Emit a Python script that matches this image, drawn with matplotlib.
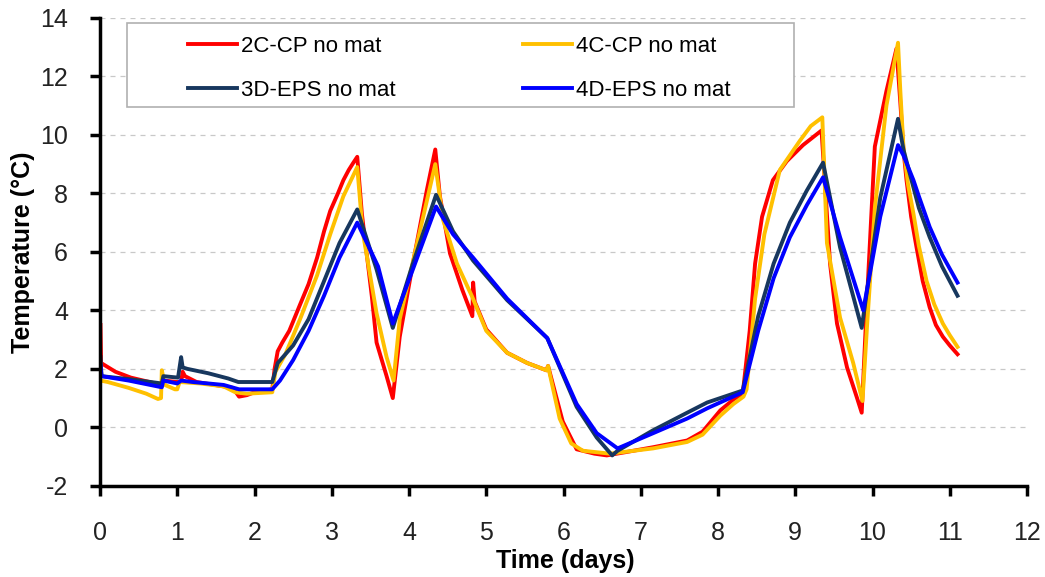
import matplotlib
matplotlib.use("Agg")
import matplotlib.pyplot as plt
from matplotlib.patches import Rectangle

# series (time in days, temperature in degC)
t_2c = [0.006, 0.014, 0.2, 0.4, 0.8, 0.82, 1.0, 1.05, 1.07, 1.1, 1.25, 1.6, 1.72, 1.8, 1.9, 2.0, 2.23,
        2.26, 2.3, 2.36, 2.45, 2.59, 2.7, 2.81, 2.9, 2.98, 3.08, 3.15, 3.22, 3.28, 3.33, 3.39, 3.52,
        3.58, 3.71, 3.79, 3.88, 4.05, 4.23, 4.34, 4.4, 4.53, 4.69, 4.82, 4.83, 4.85, 5.0, 5.27, 5.53,
        5.78, 5.8, 5.82, 5.99, 6.17, 6.4, 6.56, 6.8, 7.16, 7.6, 7.8, 8.03, 8.2, 8.32, 8.41, 8.48,
        8.57, 8.71, 8.89, 9.1, 9.34, 9.39, 9.45, 9.54, 9.67, 9.8, 9.86, 9.93, 10.03, 10.18, 10.31,
        10.36, 10.4, 10.44, 10.5, 10.57, 10.65, 10.74, 10.82, 10.91, 11.0, 11.1]
T_2c = [3.5, 2.2, 1.9, 1.7, 1.45, 1.6, 1.55, 1.55, 1.9, 1.75, 1.55, 1.4, 1.35, 1.05, 1.1, 1.2, 1.3,
        2.0, 2.6, 2.9, 3.3, 4.2, 4.9, 5.8, 6.7, 7.4, 8.0, 8.45, 8.8, 9.05, 9.25, 7.3, 4.45,
        2.9, 1.75, 1.0, 3.1, 5.6, 8.1, 9.5, 7.9, 5.95, 4.7, 3.8, 4.95, 4.3, 3.35, 2.55, 2.2,
        1.95, 2.1, 1.9, 0.2, -0.75, -0.9, -0.96, -0.85, -0.68, -0.45, -0.15, 0.58, 0.95, 1.15, 3.3, 5.6,
        7.2, 8.45, 9.1, 9.65, 10.15, 8.1, 5.6, 3.55, 2.05, 1.0, 0.5, 4.45, 9.6, 11.5, 12.95,
        11.1, 9.5, 8.45, 7.2, 6.15, 5.0, 4.1, 3.5, 3.1, 2.8, 2.5]

t_4c = [0.006, 0.1, 0.37, 0.6, 0.75, 0.79, 0.8, 0.82, 0.84, 0.97, 1.0, 1.03, 1.3, 1.6, 1.75, 1.9,
        2.23, 2.27, 2.4, 2.59, 2.81, 2.98, 3.15, 3.33, 3.4, 3.58, 3.71, 3.8, 3.88, 4.14, 4.34, 4.44,
        4.62, 4.82, 5.0, 5.27, 5.53, 5.78, 5.8, 5.82, 5.95, 6.1, 6.25, 6.6, 7.16, 7.6, 7.8, 8.03, 8.2,
        8.33, 8.37, 8.48, 8.6, 8.8, 9.06, 9.2, 9.35, 9.41, 9.58, 9.75, 9.87, 9.93, 10.03, 10.18,
        10.33, 10.36, 10.4, 10.46, 10.53, 10.6, 10.7, 10.8, 10.91, 11.0, 11.1]
T_4c = [1.6, 1.55, 1.35, 1.15, 0.97, 1.0, 1.95, 1.7, 1.45, 1.3, 1.3, 1.55, 1.5, 1.4, 1.2, 1.15,
        1.2, 1.9, 2.5, 3.7, 5.2, 6.6, 7.9, 8.9, 6.7, 3.9, 2.4, 1.6, 3.7, 6.7, 9.0, 7.1,
        5.6, 4.45, 3.3, 2.55, 2.2, 1.95, 2.1, 1.85, 0.3, -0.55, -0.8, -0.9, -0.72, -0.5, -0.25, 0.4, 0.8,
        1.05, 1.3, 4.4, 6.6, 8.8, 9.8, 10.3, 10.6, 6.3, 3.75, 2.2, 0.9, 3.5, 7.5, 11.0,
        13.15, 11.5, 9.6, 8.3, 7.3, 6.2, 5.0, 4.2, 3.55, 3.15, 2.75]

t_3d = [0.006, 0.02, 0.37, 0.8, 0.82, 1.01, 1.05, 1.07, 1.13, 1.4, 1.66, 1.79, 2.23, 2.3, 2.5,
        2.7, 2.9, 3.1, 3.33, 3.58, 3.79, 4.05, 4.35, 4.57, 4.83, 5.27, 5.79, 6.17, 6.43, 6.63, 6.7,
        7.16, 7.6, 7.86, 8.32, 8.52, 8.72, 8.93, 9.15, 9.36, 9.58, 9.86, 10.1, 10.33, 10.4, 10.53,
        10.6, 10.74, 10.9, 11.1]
T_3d = [2.4, 1.75, 1.65, 1.5, 1.75, 1.7, 2.4, 2.05, 2.0, 1.85, 1.67, 1.55, 1.55, 2.2, 2.8,
        3.7, 5.0, 6.3, 7.45, 5.4, 3.4, 5.6, 7.95, 6.7, 5.7, 4.35, 3.05, 0.7, -0.35, -0.96, -0.8,
        -0.1, 0.5, 0.85, 1.26, 3.8, 5.6, 7.0, 8.1, 9.05, 6.15, 3.4, 7.85, 10.55, 9.5, 8.2,
        7.5, 6.5, 5.5, 4.5]

t_4d = [0.006, 0.02, 0.37, 0.8, 0.82, 1.0, 1.05, 1.2, 1.6, 1.8, 2.23, 2.33, 2.5, 2.7, 2.9, 3.1,
        3.33, 3.6, 3.79, 4.05, 4.35, 4.57, 4.83, 5.27, 5.79, 6.17, 6.43, 6.7, 7.16, 7.6, 7.86, 8.32,
        8.52, 8.72, 8.93, 9.15, 9.36, 9.58, 9.88, 10.1, 10.33, 10.4, 10.53, 10.6, 10.74, 10.9, 11.1]
T_4d = [2.1, 1.75, 1.6, 1.37, 1.6, 1.5, 1.6, 1.55, 1.45, 1.3, 1.3, 1.6, 2.3, 3.3, 4.5, 5.8,
        7.0, 5.5, 3.55, 5.4, 7.55, 6.6, 5.8, 4.4, 3.05, 0.8, -0.2, -0.72, -0.2, 0.3, 0.65, 1.2,
        3.3, 5.1, 6.5, 7.6, 8.55, 6.5, 4.0, 7.2, 9.65, 9.3, 8.45, 7.9, 6.85, 5.9, 4.95]

labels = ["2C-CP no mat", "4C-CP no mat", "3D-EPS no mat", "4D-EPS no mat"]
colors = ["#FF0000", "#FFC000", "#17375E", "#0000FF"]
x_ticks = list(range(0, 13))
y_ticks = list(range(-2, 15, 2))

narrow = ["Liberation Sans Narrow", "Liberation Sans", "DejaVu Sans"]
plt.rcParams["font.family"] = ["Liberation Sans", "DejaVu Sans"]
plt.rcParams["axes.unicode_minus"] = False

fig = plt.figure(figsize=(10.45, 5.77), dpi=100)
ax = fig.add_axes([0.0957, 0.158, 0.8871, 0.811])

series = [(t_2c, T_2c), (t_4c, T_4c), (t_3d, T_3d), (t_4d, T_4d)]
lines = []
for (t, T), lab, c in zip(series, labels, colors):
    ln, = ax.plot(t, T, color=c, lw=2.8, label=lab, solid_joinstyle="round")
    lines.append(ln)

ax.set_xlim(0, 12)
ax.set_ylim(-2, 14)
ax.set_xticks(x_ticks)
ax.set_yticks(y_ticks)
ax.grid(axis="y", linestyle=(0, (4, 4)), color="#c8c8c8", lw=0.9)
ax.set_axisbelow(True)

for s in ["top", "right"]:
    ax.spines[s].set_visible(False)
for s in ["left", "bottom"]:
    ax.spines[s].set_linewidth(2.5)
ax.tick_params(axis="both", length=7, width=2.5, direction="out", colors="black")
ax.tick_params(axis="y", pad=16)
ax.tick_params(axis="x", pad=18)
for lbl in ax.get_xticklabels() + ax.get_yticklabels():
    lbl.set_family(narrow)
    lbl.set_fontsize(18)
    lbl.set_color("#222222")

ax.set_xlabel("Time (days)", fontsize=18, fontweight="bold")
ax.set_ylabel("Temperature (°C)", fontsize=18, fontweight="bold")
ax.xaxis.set_label_coords(0.502, -0.135)
ax.yaxis.set_label_coords(-0.07, 0.5)

# legend frame drawn separately so the padding matches the original
ax.add_patch(Rectangle((0.029, 0.81), 0.7195, 0.1795, transform=ax.transAxes, fill=True,
                       facecolor="white", edgecolor="#b0b0b0", lw=1.2, clip_on=False, zorder=4))
order = [0, 2, 1, 3]
leg = ax.legend([lines[i] for i in order], [labels[i] for i in order], ncol=2,
                loc="upper left", bbox_to_anchor=(0.095, 0.962), frameon=False,
                handlelength=2.2, handletextpad=0.2, borderaxespad=0, borderpad=0,
                labelspacing=1.05, columnspacing=5.7, prop={"family": narrow, "size": 16})
leg.set_zorder(5)

fig.savefig("out.png", dpi=100)
